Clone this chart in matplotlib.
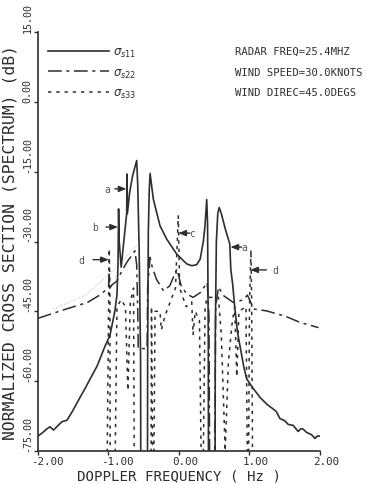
import matplotlib
matplotlib.use("Agg")
import matplotlib.pyplot as plt
from matplotlib.transforms import ScaledTranslation

# ---- data: Doppler frequency (Hz) vs normalized cross section (dB) ----
s11_hz = [-2.00, -1.93, -1.87, -1.83, -1.78, -1.70, -1.66, -1.59, -1.52, -1.43,
          -1.33, -1.26, -1.16, -1.05, -0.98, -0.91, -0.88, -0.865, -0.857, -0.848,
          -0.82, -0.79, -0.742, -0.737, -0.732, -0.70, -0.66, -0.60, -0.585, -0.565,
          -0.545, -0.540, -0.448, -0.445, -0.435, -0.422, -0.41, -0.364, -0.27, -0.174,
          -0.033, 0.109, 0.18, 0.25, 0.30, 0.345, 0.369, 0.393, 0.405, 0.415, 0.42,
          0.51, 0.515, 0.53, 0.55, 0.57, 0.60, 0.66, 0.72, 0.735, 0.76,
          0.79, 0.83, 0.865, 0.92, 0.96, 1.05, 1.15, 1.25, 1.38, 1.43,
          1.50, 1.55, 1.62, 1.69, 1.73, 1.76, 1.81, 1.88, 1.93, 1.96, 1.99]
s11_db = [-71.8, -71.0, -70.2, -69.8, -70.5, -69.3, -68.7, -68.4, -66.7, -64.2,
          -61.5, -59.5, -56.7, -52.5, -50.2, -45.0, -41.5, -35.0, -23.0, -30.0,
          -35.5, -31.0, -24.0, -15.5, -24.0, -19.5, -16.0, -12.6, -18.0, -32.0,
          -55.0, -95.0, -95.0, -55.0, -28.0, -19.0, -15.4, -20.9, -26.6, -29.5,
          -32.7, -34.8, -35.2, -35.0, -33.8, -30.0, -26.6, -21.0, -26.0, -50.0, -95.0,
          -95.0, -50.0, -30.0, -24.0, -22.7, -24.0, -27.5, -30.5, -36.0, -39.0,
          -44.0, -49.5, -52.4, -57.0, -59.5, -61.5, -63.5, -65.0, -66.5, -68.0,
          -68.5, -69.3, -69.5, -70.8, -70.2, -70.3, -71.0, -71.5, -72.3, -71.8, -71.8]

s22_hz = [-2.00, -1.80, -1.60, -1.30, -1.10, -1.00, -0.99, -0.98, -0.95, -0.88,
          -0.80, -0.72, -0.67, -0.625, -0.60, -0.585, -0.578, -0.452, -0.445, -0.41,
          -0.38, -0.32, -0.22, -0.13, -0.03, 0.03, 0.11, 0.20, 0.30, 0.40,
          0.425, 0.44, 0.50, 0.52, 0.56, 0.63, 0.77, 0.92, 0.97, 1.06,
          1.24, 1.50, 1.72, 1.98]
s22_db = [-46.5, -45.5, -44.5, -43.1, -41.3, -39.8, -37.0, -40.0, -39.3, -38.5,
          -36.0, -34.0, -33.0, -32.0, -35.0, -45.0, -53.0, -53.0, -40.0, -33.4,
          -35.5, -38.1, -40.6, -39.5, -35.9, -39.5, -41.3, -42.0, -41.0, -38.8,
          -46.0, -95.0, -95.0, -44.0, -39.8, -41.6, -43.1, -42.5, -41.5, -44.5,
          -44.9, -46.0, -47.4, -48.5]

s33_hz = [-1.03, -1.00, -0.99, -0.98, -0.975, -0.92, -0.88, -0.82, -0.76, -0.725,
          -0.69, -0.645, -0.63, -0.40, -0.39, -0.365, -0.34, -0.27, -0.25, -0.20,
          -0.05, -0.01, 0.01, 0.10, 0.18, 0.20, 0.23, 0.29, 0.33, 0.37,
          0.40, 0.56, 0.60, 0.655, 0.70, 0.75, 0.79, 0.82, 0.85, 0.95,
          0.98, 1.00, 1.02, 1.03, 1.05]
s33_db = [-95.0, -46.0, -31.6, -40.0, -95.0, -95.0, -44.0, -42.5, -44.0, -62.0,
          -43.0, -40.0, -95.0, -95.0, -44.0, -95.0, -45.0, -45.0, -49.0, -46.0,
          -40.0, -24.5, -40.0, -44.0, -43.0, -50.0, -45.0, -47.0, -95.0, -44.0,
          -42.0, -42.0, -50.0, -75.0, -56.0, -48.0, -44.0, -59.0, -45.0, -44.0,
          -95.0, -44.0, -31.8, -42.0, -95.0]

# faint trace on the lower left flank
faint_hz = [-1.78, -1.33, -0.95, -0.60]
faint_db = [-44.5, -41.6, -36.5, -30.9]

# feature markers: label, text x, arrow tail x, arrow head x, level (dB)
mark_lbl = ["a", "b", "d", "c", "a", "d"]
mark_tx = [-1.02, -1.19, -1.38, 0.19, 0.92, 1.36]
mark_x0 = [-0.91, -1.035, -1.22, 0.156, 0.89, 1.24]
mark_x1 = [-0.745, -0.865, -0.995, -0.01, 0.73, 1.01]
mark_y = [-18.7, -26.9, -33.9, -28.2, -31.2, -36.1]

xticks = [-2.0, -1.0, 0.0, 1.0, 2.0]
xtick_lbl = ["-2.00", "-1.00", "0.00", "1.00", "2.00"]
yticks = [15, 0, -15, -30, -45, -60, -75]
ytick_lbl = ["15.00", "0.00", "-15.00", "-30.00", "-45.00", "-60.00", "-75.00"]

info = ["RADAR FREQ=25.4MHZ", "WIND SPEED=30.0KNOTS", "WIND DIREC=45.0DEGS"]

ink = "#2e2e2e"
mono = "DejaVu Sans Mono"

fig = plt.figure(figsize=(3.73, 4.85), dpi=100)
ax = fig.add_axes([38 / 373, 1 - 452 / 485, 282 / 373, 419 / 485])

ax.plot(faint_hz, faint_db, color="#c4c4c4", lw=0.8, ls=(0, (1, 1.5)))
ax.plot(s11_hz, s11_db, color=ink, lw=1.2, label=r"$\sigma_{s11}$")
ax.plot(s22_hz, s22_db, color=ink, lw=1.1, ls=(0, (9, 3, 2, 3)),
        label=r"$\sigma_{s22}$")
ax.plot(s33_hz, s33_db, color=ink, lw=1.1, ls=(0, (2.2, 3.2)),
        label=r"$\sigma_{s33}$")

for lbl, tx, x0, x1, y in zip(mark_lbl, mark_tx, mark_x0, mark_x1, mark_y):
    ax.annotate("", xy=(x1, y), xytext=(x0, y),
                arrowprops=dict(arrowstyle="-|>,head_length=0.45,head_width=0.18",
                                color=ink, lw=1.0, shrinkA=0, shrinkB=0))
    ax.text(tx, y, lbl, fontsize=7, family=mono, color="#555555",
            ha="center", va="center")

ax.set_xlim(-2, 2)
ax.set_ylim(-75, 15)
for side in ("top", "right"):
    ax.spines[side].set_visible(False)
for side in ("left", "bottom"):
    ax.spines[side].set_linewidth(1.2)
    ax.spines[side].set_color(ink)

ax.set_xticks(xticks)
ax.set_xticklabels(xtick_lbl, family=mono, fontsize=7.8, color=ink, ha="left")
ax.set_yticks(yticks)
ax.set_yticklabels(ytick_lbl, family=mono, fontsize=7.2, color=ink,
                   rotation=90, va="bottom", ha="right")
ax.tick_params(axis="both", direction="out", length=3.0, width=1.0, colors=ink,
               pad=1.0)
ax.tick_params(axis="x", pad=0.3)
shift = ScaledTranslation(-7 / 100, 0, fig.dpi_scale_trans)
for t in ax.get_xticklabels():
    t.set_transform(t.get_transform() + shift)

ax.set_xlabel("DOPPLER FREQUENCY ( Hz )", family=mono, fontsize=10.2, color=ink,
              va="center")
ax.xaxis.set_label_coords(0.5, (452 - 476.5) / 419)
ax.set_ylabel("NORMALIZED CROSS SECTION (SPECTRUM) (dB)", family=mono,
              fontsize=11.8, color=ink, va="center")
ax.yaxis.set_label_coords((10 - 38) / 282, 0.5)

leg = ax.legend(loc="upper left", bbox_to_anchor=(48 / 373, 1 - 46 / 485),
                bbox_transform=fig.transFigure, frameon=False, fontsize=8.5,
                handlelength=5.2, handletextpad=0.3, labelspacing=0.55,
                borderpad=0, borderaxespad=0)
for txt in leg.get_texts():
    txt.set_color(ink)

for i, line in enumerate(info):
    fig.text(235 / 373, 1 - (52 + 20.5 * i) / 485, line, family=mono,
             fontsize=7.6, color=ink, ha="left", va="center")

fig.savefig("out.png", dpi=100, facecolor="white")
